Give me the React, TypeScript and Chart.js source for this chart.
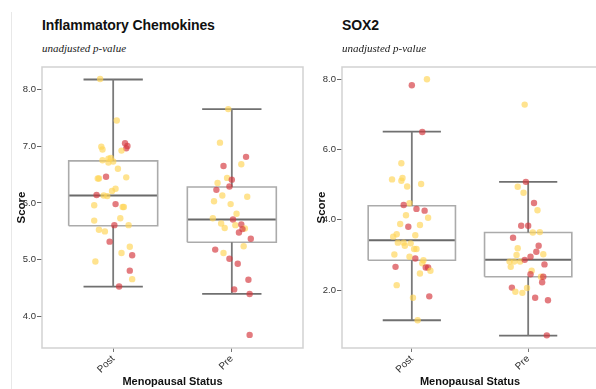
import React, { useEffect, useRef } from "react";
import { Chart, registerables } from "chart.js";

Chart.register(...registerables);
Chart.defaults.font.family = '"Liberation Sans", Arial, Helvetica, sans-serif';

// Category labels and their positions on the numeric x axis
const GROUPS = ["Post", "Pre"];
const GROUP_POS = [0, 1];
const X_RANGE = [-0.6, 1.6];

// ---- Inflammatory Chemokines ----
const CHEMO_TICKS = [4, 5, 6, 7, 8];
const CHEMO_RANGE = [3.45, 8.39];
// [min whisker, Q1, median, Q3, max whisker]
const CHEMO_POST_BOX = [4.53, 5.6, 6.13, 6.74, 8.17];
const CHEMO_PRE_BOX = [4.4, 5.31, 5.71, 6.28, 7.65];

const CHEMO_POST_SCORES = [
  8.18, 7.45, 7.05, 7.0, 6.96, 6.99, 6.94, 6.92, 6.75, 6.78, 6.79, 6.71, 6.73, 6.6,
  6.46, 6.43, 6.43, 6.45, 6.25, 6.21, 6.14, 6.13, 6.12, 5.96, 5.98, 5.93, 5.93, 5.73,
  5.69, 5.61, 5.61, 5.53, 5.5, 5.32, 5.23, 5.12, 5.08, 4.97, 4.81, 4.66, 4.53,
];
const CHEMO_POST_JITTER = [
  -0.11, 0.03, 0.1, 0.12, 0.11, -0.1, -0.09, 0.07, -0.09, -0.04, -0.02, -0.04, 0.0, 0.04,
  -0.06, -0.13, -0.12, 0.11, 0.02, -0.01, -0.14, -0.08, -0.05, -0.16, 0.02, 0.08, 0.09, 0.06,
  -0.16, 0.01, 0.13, -0.12, -0.07, -0.03, 0.14, 0.07, 0.16, -0.15, 0.14, 0.16, 0.05,
];
const CHEMO_POST_TONE = [
  "Y", "Y", "R", "R", "R", "Y", "Y", "Y", "Y", "Y", "Y", "Y", "Y", "Y",
  "R", "Y", "Y", "Y", "Y", "Y", "R", "Y", "Y", "Y", "R", "Y", "Y", "Y",
  "Y", "R", "Y", "Y", "Y", "R", "Y", "Y", "R", "Y", "R", "Y", "R",
];

const CHEMO_PRE_SCORES = [
  7.65, 7.06, 6.81, 6.68, 6.65, 6.44, 6.41, 6.35, 6.29, 6.23, 6.13, 6.11, 6.03, 5.98,
  5.81, 5.73, 5.71, 5.64, 5.61, 5.56, 5.62, 5.55, 5.54, 5.48, 5.37, 5.24, 5.18, 5.12,
  5.02, 4.93, 4.65, 4.48, 4.4, 3.68,
];
const CHEMO_PRE_JITTER = [
  -0.03, -0.1, 0.12, 0.08, -0.07, -0.04, 0.0, -0.12, -0.02, -0.13, -0.08, 0.13, -0.15, -0.01,
  0.04, -0.16, 0.01, -0.09, 0.03, -0.06, 0.08, 0.11, 0.09, 0.06, 0.16, 0.1, -0.14, -0.07,
  -0.02, 0.05, 0.14, 0.02, 0.15, 0.15,
];
const CHEMO_PRE_TONE = [
  "Y", "Y", "R", "Y", "R", "Y", "R", "Y", "R", "R", "Y", "Y", "Y", "Y",
  "Y", "Y", "R", "Y", "Y", "Y", "R", "Y", "R", "R", "R", "Y", "R", "Y",
  "R", "R", "R", "R", "R", "R",
];

// ---- SOX2 ----
const SOX2_TICKS = [2, 4, 6, 8];
const SOX2_RANGE = [0.35, 8.35];
const SOX2_POST_BOX = [1.14, 2.85, 3.42, 4.4, 6.51];
const SOX2_PRE_BOX = [0.7, 2.38, 2.86, 3.64, 5.08];

const SOX2_POST_SCORES = [
  8.0, 7.83, 6.5, 5.61, 5.15, 5.19, 5.11, 5.02, 4.95, 4.47, 4.42, 4.31, 4.26, 4.13,
  4.06, 3.88, 3.85, 3.8, 3.56, 3.59, 3.52, 3.35, 3.35, 3.33, 3.26, 3.17, 3.17, 3.01,
  2.95, 2.9, 2.85, 2.76, 2.66, 2.64, 2.64, 2.55, 2.47, 2.14, 1.78, 1.82, 1.14,
];
const SOX2_POST_JITTER = [
  0.13, 0.0, 0.09, -0.09, -0.17, -0.08, -0.09, 0.08, -0.04, -0.02, -0.07, 0.04, 0.11, -0.05,
  0.14, -0.1, 0.07, -0.03, 0.03, -0.13, -0.16, -0.12, -0.07, -0.01, -0.06, 0.02, 0.04, -0.15,
  -0.02, 0.03, 0.1, 0.09, -0.14, 0.12, 0.14, 0.16, 0.07, -0.13, 0.01, 0.15, 0.05,
];
const SOX2_POST_TONE = [
  "Y", "R", "R", "Y", "Y", "Y", "Y", "Y", "Y", "Y", "R", "R", "R", "Y",
  "Y", "Y", "Y", "R", "Y", "Y", "Y", "Y", "Y", "Y", "Y", "Y", "Y", "Y",
  "Y", "R", "Y", "Y", "R", "R", "R", "Y", "Y", "Y", "Y", "R", "Y",
];

const SOX2_PRE_SCORES = [
  7.28, 5.08, 4.94, 4.77, 4.48, 4.27, 3.83, 3.83, 3.64, 3.65, 3.49, 3.19, 3.26, 3.09,
  3.0, 3.02, 2.81, 2.81, 2.81, 2.86, 2.95, 2.66, 2.73, 2.55, 2.45, 2.38, 2.38, 2.22,
  2.07, 1.95, 1.92, 2.06, 1.78, 1.71, 0.71,
];
const SOX2_PRE_JITTER = [
  -0.03, -0.02, -0.09, -0.04, 0.05, 0.08, -0.06, 0.0, 0.04, 0.1, -0.13, -0.09, 0.09, 0.07,
  -0.1, 0.13, -0.16, -0.12, -0.07, -0.03, 0.02, -0.15, 0.14, 0.03, 0.02, 0.11, 0.13, 0.12,
  -0.14, -0.11, -0.05, -0.01, 0.06, 0.17, 0.16,
];
const SOX2_PRE_TONE = [
  "Y", "R", "Y", "Y", "R", "Y", "R", "R", "Y", "Y", "R", "Y", "R", "R",
  "Y", "Y", "Y", "Y", "Y", "R", "R", "Y", "R", "Y", "R", "Y", "R", "R",
  "R", "Y", "Y", "Y", "R", "R", "R",
];

const YELLOW = "rgba(255, 212, 85, 0.66)";
const RED = "rgba(212, 55, 60, 0.66)";
const BOX_HALF = 0.375;
const CAP_HALF = 0.25;

const plotFrame = {
  id: "plotFrame",
  beforeDatasetsDraw(chart: any) {
    const { ctx, chartArea } = chart;
    const { left, top, right, bottom } = chartArea;
    ctx.save();
    ctx.strokeStyle = "#d2d2d2";
    ctx.lineWidth = 1.5;
    ctx.strokeRect(left, top, right - left, bottom - top);
    ctx.restore();
  },
};

type PanelProps = {
  left: number;
  width: number;
  padRight: number;
  title: string;
  ticks: number[];
  range: number[];
  boxes: number[][];
  scores: number[][];
  jitter: number[][];
  tones: string[][];
};

function BoxPanel(p: PanelProps) {
  const ref = useRef<HTMLCanvasElement>(null);

  useEffect(() => {
    if (!ref.current) return;
    const datasets: any[] = [];

    // jittered observations (drawn on top)
    GROUPS.forEach((_, gi) => {
      datasets.push({
        data: p.scores[gi].map((v, i) => ({ x: GROUP_POS[gi] + p.jitter[gi][i], y: v })),
        pointBackgroundColor: p.tones[gi].map((t) => (t === "R" ? RED : YELLOW)),
        pointBorderWidth: 0,
        pointRadius: 3.2,
        showLine: false,
      });
    });

    // box, median, whiskers and caps
    GROUPS.forEach((_, gi) => {
      const [mn, q1, med, q3, mx] = p.boxes[gi];
      const c = GROUP_POS[gi];
      const seg = (pts: number[][], color: string, w: number) =>
        datasets.push({
          data: pts.map(([x, y]) => ({ x, y })),
          showLine: true,
          borderColor: color,
          borderWidth: w,
          pointRadius: 0,
          tension: 0,
          fill: false,
          borderJoinStyle: "miter",
        });
      seg([[c, q3], [c, mx]], "#7a7a7a", 1.8);
      seg([[c, mn], [c, q1]], "#7a7a7a", 1.8);
      seg([[c - CAP_HALF, mx], [c + CAP_HALF, mx]], "#707070", 1.8);
      seg([[c - CAP_HALF, mn], [c + CAP_HALF, mn]], "#707070", 1.8);
      seg(
        [
          [c - BOX_HALF, q1],
          [c + BOX_HALF, q1],
          [c + BOX_HALF, q3],
          [c - BOX_HALF, q3],
          [c - BOX_HALF, q1],
        ],
        "#ababab",
        1.6
      );
      seg([[c - BOX_HALF, med], [c + BOX_HALF, med]], "#6a6a6a", 2);
    });

    const chart = new Chart(ref.current, {
      type: "scatter",
      data: { datasets },
      plugins: [plotFrame],
      options: {
        animation: false,
        responsive: false,
        events: [],
        layout: { padding: { left: 12, top: 67, right: p.padRight, bottom: 0 } },
        plugins: { legend: { display: false }, tooltip: { enabled: false } },
        scales: {
          x: {
            type: "linear",
            min: X_RANGE[0],
            max: X_RANGE[1],
            afterBuildTicks: (s: any) => {
              s.ticks = GROUP_POS.map((v) => ({ value: v }));
            },
            afterFit: (s: any) => {
              s.height = 41;
            },
            ticks: {
              autoSkip: false,
              minRotation: 45,
              maxRotation: 45,
              padding: 1,
              color: "#333",
              font: { size: 10 },
              callback: (_v: any, i: number) => GROUPS[i],
            },
            grid: { drawOnChartArea: false, tickLength: 4, color: "#777", lineWidth: 1 },
            border: { display: false },
            title: {
              display: true,
              text: "Menopausal Status",
              color: "#111",
              font: { size: 11, weight: "bold" },
              padding: 0,
            },
          },
          y: {
            type: "linear",
            min: p.range[0],
            max: p.range[1],
            afterBuildTicks: (s: any) => {
              s.ticks = p.ticks.map((v) => ({ value: v }));
            },
            afterFit: (s: any) => {
              s.width = 30;
            },
            ticks: {
              padding: 1,
              color: "#333",
              font: { size: 9.5 },
              callback: (v: any) => Number(v).toFixed(1),
            },
            grid: { drawOnChartArea: false, tickLength: 5, color: "#666", lineWidth: 1 },
            border: { display: false },
            title: {
              display: true,
              text: "Score",
              color: "#111",
              font: { size: 11.5, weight: "bold" },
              padding: { top: 3, bottom: 0 },
            },
          },
        },
      } as any,
    });
    return () => chart.destroy();
  }, []);

  return (
    <>
      <div
        style={{
          position: "absolute",
          left: p.left + 42,
          top: 17,
          font: 'bold 14px "Liberation Sans", Arial, sans-serif',
          letterSpacing: "-0.1px",
          lineHeight: "16px",
          color: "#111",
          whiteSpace: "nowrap",
        }}
      >
        {p.title}
      </div>
      <div
        style={{
          position: "absolute",
          left: p.left + 42,
          top: 42,
          font: 'italic 11px "Liberation Serif", "Times New Roman", serif',
          lineHeight: "13px",
          color: "#1a1a1a",
          whiteSpace: "nowrap",
        }}
      >
        unadjusted p-value
      </div>
      <canvas
        ref={ref}
        width={p.width}
        height={389}
        style={{ position: "absolute", left: p.left, top: 0, width: p.width, height: 389, display: "block" }}
      />
    </>
  );
}

export default function App() {
  return (
    <div
      style={{
        position: "absolute",
        left: 0,
        top: 0,
        width: 596,
        height: 389,
        overflow: "hidden",
        background: "#fff",
      }}
    >
      <div style={{ position: "absolute", left: 11, top: 12, width: 1, height: 377, background: "#e8e8e8" }} />
      <BoxPanel
        left={0}
        width={310}
        padRight={7}
        title="Inflammatory Chemokines"
        ticks={CHEMO_TICKS}
        range={CHEMO_RANGE}
        boxes={[CHEMO_POST_BOX, CHEMO_PRE_BOX]}
        scores={[CHEMO_POST_SCORES, CHEMO_PRE_SCORES]}
        jitter={[CHEMO_POST_JITTER, CHEMO_PRE_JITTER]}
        tones={[CHEMO_POST_TONE, CHEMO_PRE_TONE]}
      />
      <BoxPanel
        left={300}
        width={302}
        padRight={0}
        title="SOX2"
        ticks={SOX2_TICKS}
        range={SOX2_RANGE}
        boxes={[SOX2_POST_BOX, SOX2_PRE_BOX]}
        scores={[SOX2_POST_SCORES, SOX2_PRE_SCORES]}
        jitter={[SOX2_POST_JITTER, SOX2_PRE_JITTER]}
        tones={[SOX2_POST_TONE, SOX2_PRE_TONE]}
      />
    </div>
  );
}
